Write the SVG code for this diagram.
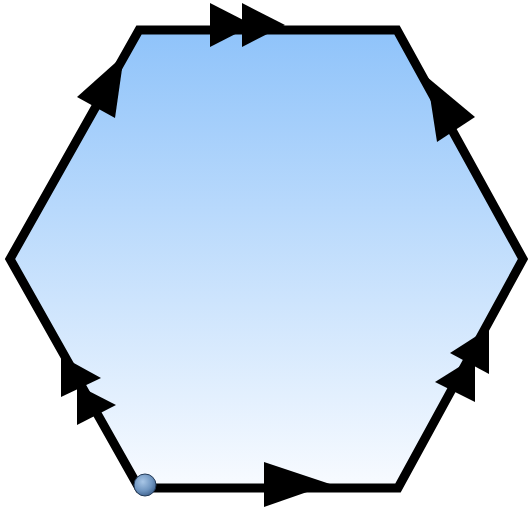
<svg xmlns="http://www.w3.org/2000/svg" width="528" height="509" viewBox="0 0 528 509">
  <defs>
    <linearGradient id="fillGrad" x1="0" y1="0" x2="0" y2="1">
      <stop offset="0" stop-color="#8fc3fa"/>
      <stop offset="1" stop-color="#f8fbff"/>
    </linearGradient>
    <radialGradient id="dotGrad" cx="0.4" cy="0.35" r="0.7">
      <stop offset="0" stop-color="#a8c6e6"/>
      <stop offset="0.6" stop-color="#6f95c0"/>
      <stop offset="1" stop-color="#3d608c"/>
    </radialGradient>
  </defs>
  <style>
    .edge { fill: url(#fillGrad); stroke: #000; stroke-width: 9; stroke-linejoin: miter; stroke-miterlimit: 10; }
    .head { fill: #000; stroke: none; }
    .dot { fill: url(#dotGrad); stroke: #233a57; stroke-width: 1; }
  </style>
  <g id="hexagon">
    <polygon class="edge" points="139,30 397,30 523,259 398,488 139,488 10,259"/>
  </g>
  <g id="connectors">
    <!-- top edge: double arrow pointing right -->
    <polygon class="head" points="210,3 253,25 210,47"/>
    <polygon class="head" points="242,3 285,25 242,47"/>
    <!-- upper-right edge: arrow pointing up-left -->
    <polygon class="head" points="427,77 475,117 437,142"/>
    <!-- lower-right edge: double arrow pointing up-right -->
    <polygon class="head" points="489,328 489,374 450,353"/>
    <polygon class="head" points="475,357 475,402 435,382"/>
    <!-- bottom edge: arrow pointing right -->
    <polygon class="head" points="264,462 330,484 264,507"/>
    <!-- lower-left edge: double arrow pointing up-left -->
    <polygon class="head" points="61,356 101,378 61,397"/>
    <polygon class="head" points="77,385 116,405 77,425"/>
    <!-- upper-left edge: arrow pointing up-right -->
    <polygon class="head" points="124,55 115,118 77,97"/>
  </g>
  <g id="start-point">
    <circle class="dot" cx="145" cy="485" r="11"/>
  </g>
</svg>
